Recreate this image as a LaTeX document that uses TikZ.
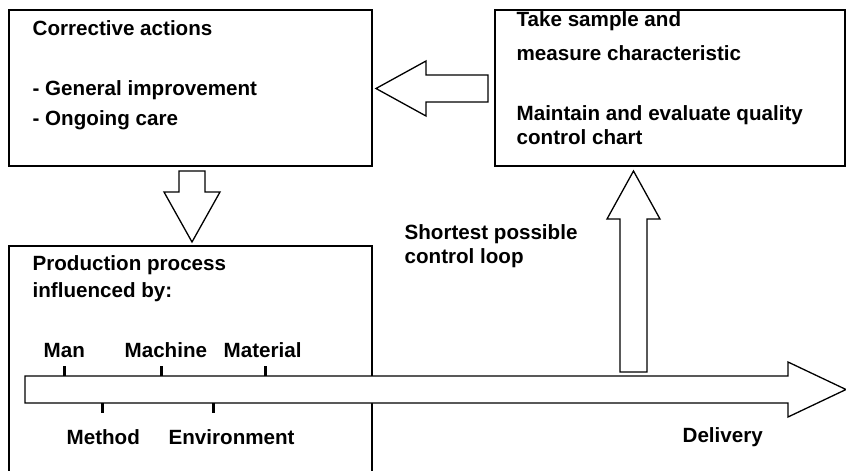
\documentclass[tikz,border=0pt]{standalone}
\usepackage{fontspec}
\setmainfont{Liberation Sans}
\begin{document}
\begin{tikzpicture}[x=1pt,y=-1pt,line width=1.3pt,
  box/.style={draw,fill=white,inner sep=0pt},
  lbl/.style={anchor=base west,inner sep=0pt,font=\fontsize{20.6}{24}\selectfont\bfseries},
  tickmark/.style={line width=3pt},
  blockarrow/.style={draw,fill=white,line join=miter}]
\useasboundingbox (0,0) rectangle (846,471);
\clip (0,0) rectangle (846,471);
% boxes
\node[box,minimum width=363pt,minimum height=156pt] (corr) at (190.5,88) {};
\node[box,minimum width=350pt,minimum height=156pt] (sample) at (670,88) {};
\node[box,minimum width=363pt,minimum height=250pt] (prod) at (190.5,371) {};
% block arrows
\coordinate (latail) at (488,88.5);
\coordinate (latip) at (376,88.5);
\draw[blockarrow] (latail) ++(0,-13.5) -- (426,75) -- (426,61) -- (latip) -- (426,116) -- (426,102) -- (latail |- 0,102) -- cycle;
\coordinate (datip) at (192,242);
\draw[blockarrow] (179,171) -- (205,171) -- (205,192) -- (220,192) -- (datip) -- (164,192) -- (179,192) -- cycle;
\coordinate (uatip) at (633.5,171);
\draw[blockarrow] (620,372) -- (620,219) -- (607,219) -- (uatip) -- (660,219) -- (647,219) -- (647,372) -- cycle;
\coordinate (hatip) at (846,389.5);
\draw[blockarrow] (25,376) -- (788,376) -- (788,362) -- (hatip) -- (788,417) -- (788,403) -- (25,403) -- cycle;
% ticks
\coordinate (tman) at (64,376);
\coordinate (tmachine) at (161,376);
\coordinate (tmaterial) at (265,376);
\coordinate (tmethod) at (102,403);
\coordinate (tenv) at (213,403);
\draw[tickmark] (tman) -- ++(0,-10);
\draw[tickmark] (tmachine) -- ++(0,-10);
\draw[tickmark] (tmaterial) -- ++(0,-10);
\draw[tickmark] (tmethod) -- ++(0,10);
\draw[tickmark] (tenv) -- ++(0,10);
% texts
\node[lbl] (t1) at (32,35) {Corrective actions};
\node[lbl] (t2) at (32,95) {- General improvement};
\node[lbl] (t3) at (32,125) {- Ongoing care};
\node[lbl] (t4) at (516,26) {Take sample and};
\node[lbl] (t5) at (516,60) {measure characteristic};
\node[lbl] (t6) at (516,120) {Maintain and evaluate quality};
\node[lbl] (t7) at (516,144) {control chart};
\node[lbl] (t8) at (404,239) {Shortest possible};
\node[lbl] (t9) at (404,263) {control loop};
\node[lbl] (t10) at (32,270) {Production process};
\node[lbl] (t11) at (32,297) {influenced by:};
\node[lbl] (man) at (43,357) {Man};
\node[lbl] (machine) at (124,357) {Machine};
\node[lbl] (material) at (223,357) {Material};
\node[lbl] (method) at (66,444) {Method};
\node[lbl] (env) at (168,444) {Environment};
\node[lbl] (deliv) at (682,442) {Delivery};
\end{tikzpicture}
\end{document}
